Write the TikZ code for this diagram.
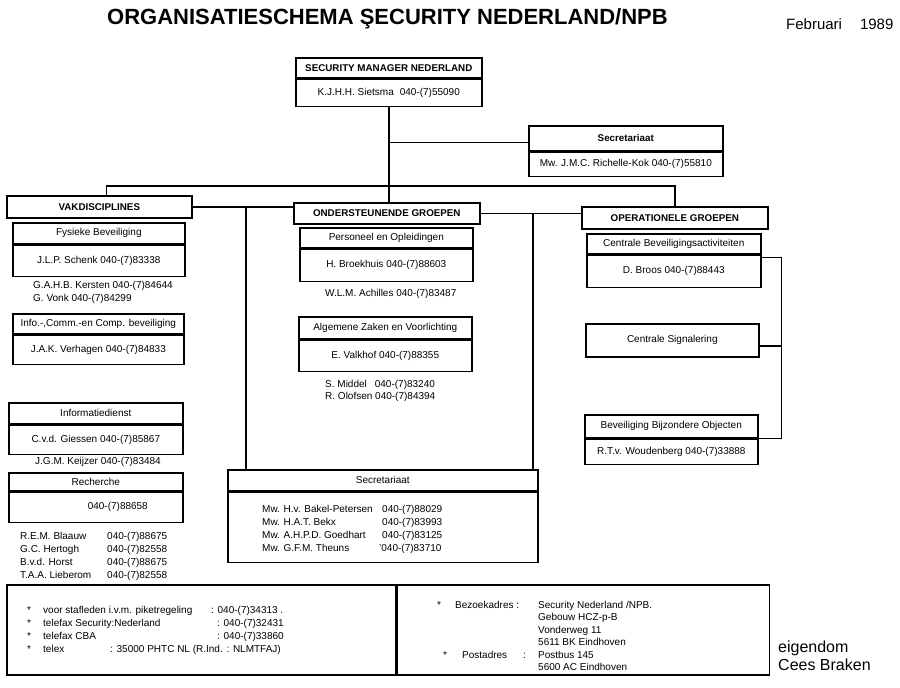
\documentclass[tikz,border=0pt]{standalone}
\usepackage{fontspec}
\setmainfont{Liberation Sans}
\tikzset{
  bx/.style={draw, line width=1.6pt, inner sep=0pt, anchor=north west, align=center, font=\fontsize{10}{12}\selectfont},
  bd/.style={bx, anchor=north},
  bold/.style={font=\fontsize{9.8}{12}\selectfont\bfseries},
  ln/.style={line width=1.6pt},
  tx/.style={anchor=base west, inner sep=0pt, font=\fontsize{10}{12}\selectfont},
  big/.style={anchor=base west, inner sep=0pt, font=\fontsize{16}{18}\selectfont},
}
\begin{document}
\begin{tikzpicture}[x=1pt,y=-1pt]
\fill[white] (0,0) rectangle (900,688);
\useasboundingbox (0,0) rectangle (900,688);

% title
\node[anchor=base west, inner sep=0pt, font=\fontsize{22}{24}\selectfont\bfseries] (title) at (107,24) {ORGANISATIESCHEMA ŞECURITY NEDERLAND/NPB};
\node[anchor=base west, inner sep=0pt, font=\fontsize{15}{17}\selectfont] (date) at (786,30) {Februari\hspace{18pt}1989};

% manager
\node[bx, bold, minimum width=186pt, minimum height=20pt] (manH) at (295,57) {SECURITY MANAGER NEDERLAND};
\node[bd, minimum width=186pt, minimum height=27pt] (manB) at (manH.south) {K.J.H.H. Sietsma\hspace{6pt}040-(7)55090};

% secretariaat top
\node[bx, bold, minimum width=194pt, minimum height=25pt] (secH) at (528,125) {Secretariaat};
\node[bd, minimum width=194pt, minimum height=24pt] (secB) at (secH.south) {Mw. J.M.C. Richelle-Kok 040-(7)55810};

% groups
\node[bx, bold, minimum width=185pt, minimum height=22pt] (vakd) at (6,195) {VAKDISCIPLINES};
\node[bx, bold, minimum width=186pt, minimum height=21pt] (onder) at (293,202) {ONDERSTEUNENDE GROEPEN};
\node[bx, bold, minimum width=186pt, minimum height=22pt] (oper) at (581,206) {OPERATIONELE GROEPEN};

% left column
\node[bx, minimum width=172pt, minimum height=21pt] (fysH) at (12,222) {Fysieke Beveiliging};
\node[bd, minimum width=172pt, minimum height=31pt] (fysB) at (fysH.south) {J.L.P. Schenk 040-(7)83338};
\node[tx] (kersten) at (33,288) {G.A.H.B. Kersten 040-(7)84644};
\node[tx] (vonk) at (33,301) {G. Vonk 040-(7)84299};
\node[bx, minimum width=171pt, minimum height=20pt] (infH) at (12,313) {Info.-,Comm.-en Comp. beveiliging};
\node[bd, minimum width=171pt, minimum height=29pt] (infB) at (infH.south) {J.A.K. Verhagen 040-(7)84833};
\node[bx, minimum width=174pt, minimum height=21pt] (idH) at (8,402) {Informatiedienst};
\node[bd, minimum width=174pt, minimum height=29pt] (idB) at (idH.south) {C.v.d. Giessen 040-(7)85867};
\node[tx] (keijzer) at (35,464) {J.G.M. Keijzer 040-(7)83484};
\node[bx, minimum width=174pt, minimum height=18pt] (recH) at (8,472) {Recherche};
\node[bd, minimum width=174pt, minimum height=30pt] (recB) at (recH.south) {\hspace*{44pt}040-(7)88658};
\node[tx] (r1n) at (20,539) {R.E.M. Blaauw};
\node[tx] (r2n) at (20,552) {G.C. Hertogh};
\node[tx] (r3n) at (20,565) {B.v.d. Horst};
\node[tx] (r4n) at (20,578) {T.A.A. Lieberom};
\node[tx] (r1p) at (107,539) {040-(7)88675};
\node[tx] (r2p) at (107,552) {040-(7)82558};
\node[tx] (r3p) at (107,565) {040-(7)88675};
\node[tx] (r4p) at (107,578) {040-(7)82558};

% middle column
\node[bx, minimum width=173pt, minimum height=20pt] (perH) at (299,227) {Personeel en Opleidingen};
\node[bd, minimum width=173pt, minimum height=32pt] (perB) at (perH.south) {H. Broekhuis 040-(7)88603};
\node[tx] (achilles) at (325,296) {W.L.M. Achilles 040-(7)83487};
\node[bx, minimum width=173pt, minimum height=22pt] (algH) at (298,316) {Algemene Zaken en Voorlichting};
\node[bd, minimum width=173pt, minimum height=31pt] (algB) at (algH.south) {E. Valkhof 040-(7)88355};
\node[tx] (middel) at (325,387) {S. Middel\hspace{8pt}040-(7)83240};
\node[tx] (olofsen) at (325,399) {R. Olofsen 040-(7)84394};

% right column
\node[bx, minimum width=174pt, minimum height=20pt] (cbaH) at (586,233) {Centrale Beveiligingsactiviteiten};
\node[bd, minimum width=174pt, minimum height=32pt] (cbaB) at (cbaH.south) {D. Broos 040-(7)88443};
\node[bx, minimum width=173pt, minimum height=33pt] (sig) at (585,323) {Centrale Signalering};
\node[bx, minimum width=173pt, minimum height=23pt] (bboH) at (584,414) {Beveiliging Bijzondere Objecten};
\node[bd, minimum width=173pt, minimum height=25pt] (bboB) at (bboH.south) {R.T.v. Woudenberg 040-(7)33888};

% secretariaat bottom
\node[bx, minimum width=310pt, minimum height=21pt] (s2H) at (227,469) {Secretariaat};
\node[bd, minimum width=310pt, minimum height=70pt] (s2B) at (s2H.south) {};
\node[tx] (s1n) at (262,512) {Mw. H.v. Bakel-Petersen};
\node[tx] (s2n) at (262,525) {Mw. H.A.T. Bekx};
\node[tx] (s3n) at (262,538) {Mw. A.H.P.D. Goedhart};
\node[tx] (s4n) at (262,551) {Mw. G.F.M. Theuns};
\node[tx] (s1p) at (382,512) {040-(7)88029};
\node[tx] (s2p) at (382,525) {040-(7)83993};
\node[tx] (s3p) at (382,538) {040-(7)83125};
\node[tx] (s4p) at (379,551) {'040-(7)83710};

% connectors
\draw[ln] (manB.south) -- (manB.south |- onder.north);
\draw[ln] ([yshift=-4pt]secH.west) -- ([yshift=-4pt]secH.west -| manB.south);
\draw[ln] ([xshift=7pt]vakd.north) -- ++(0,-9) -| (oper.north);
\draw[ln] (vakd.east) -- (vakd.east -| onder.west);
\draw[ln] (onder.east) -- (onder.east -| oper.west);
\coordinate (vj) at (246,0);
\coordinate (vk) at (533,0);
\draw[ln] (vakd.east -| vj) -- (vj |- s2H.north);
\draw[ln] (onder.east -| vk) -- (vk |- s2H.north);
\draw[ln] ([yshift=-3pt]cbaB.north east) -- ++(20,0) coordinate (rv) |- (bboH.south east);
\draw[ln] ([yshift=-5.5pt]sig.east) -- ([yshift=-5.5pt]sig.east -| rv);

% footer
\node[bx, minimum width=389pt, minimum height=90pt] (footL) at (6,584) {};
\node[bx, minimum width=372pt, minimum height=90pt] (footR) at (footL.north east) {};
\node[tx] (fs1) at (27,613) {*};
\node[tx] (fs2) at (27,626) {*};
\node[tx] (fs3) at (27,639) {*};
\node[tx] (fs4) at (27,652) {*};
\node[tx] (ft1) at (43,613) {voor stafleden i.v.m. piketregeling};
\node[tx] (ft2) at (43,626) {telefax Security:Nederland};
\node[tx] (ft3) at (43,639) {telefax CBA};
\node[tx] (ft4) at (43,652) {telex};
\node[tx] (fp1) at (211,613) {: 040-(7)34313 .};
\node[tx] (fp2) at (217,626) {: 040-(7)32431};
\node[tx] (fp3) at (217,639) {: 040-(7)33860};
\node[tx] (fp4) at (110,652) {: 35000 PHTC NL (R.Ind. : NLMTFAJ)};

\node[tx] (bs1) at (437,608) {*};
\node[tx] (bl1) at (455,608) {Bezoekadres :};
\node[tx] (bv1) at (538,608) {Security Nederland /NPB.};
\node[tx] (bv2) at (538,620.5) {Gebouw HCZ-p-B};
\node[tx] (bv3) at (538,633) {Vonderweg 11};
\node[tx] (bv4) at (538,645.5) {5611 BK Eindhoven};
\node[tx] (bs5) at (443,658) {*};
\node[tx] (bl5) at (462,658) {Postadres};
\node[tx] (bc5) at (523,658) {:};
\node[tx] (bv5) at (538,658) {Postbus 145};
\node[tx] (bv6) at (538,670.5) {5600 AC Eindhoven};

\node[big] (eig) at (778,652) {eigendom};
\node[big] (cees) at (778,670) {Cees Braken};
\end{tikzpicture}
\end{document}
